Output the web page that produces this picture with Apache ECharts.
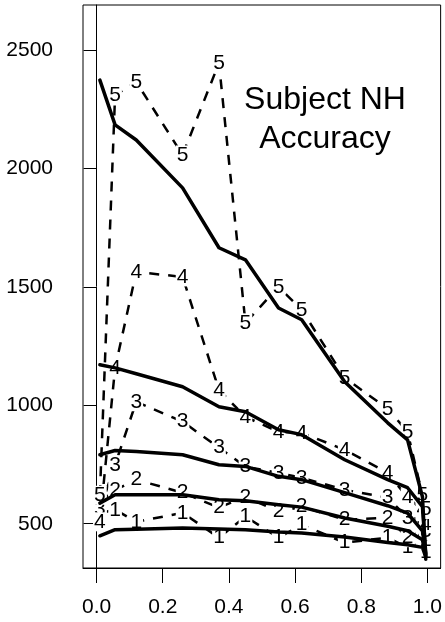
<!DOCTYPE html>
<html>
<head>
<meta charset="utf-8">
<script src="https://cdn.jsdelivr.net/npm/echarts@6/dist/echarts.min.js"></script>
<style>
  html, body { margin: 0; padding: 0; background: #fff; }
  #chart { width: 445px; height: 622px; }
</style>
</head>
<body>
<div id="chart"></div>
<script>
// shared x positions (proportion)
const xVals = [0.01, 0.056, 0.12, 0.26, 0.37, 0.45, 0.55, 0.62, 0.75, 0.88, 0.94, 0.985, 0.995];

// model curves (solid)
const model1 = [449, 475, 477, 482, 478, 475, 465, 461, 444, 421, 411, 400, 360];
const model2 = [587, 622, 622, 622, 601, 597, 580, 570, 524, 489, 470, 432, 365];
const model3 = [791, 809, 805, 791, 749, 742, 700, 686, 631, 576, 545, 470, 370];
const model4 = [1171, 1158, 1133, 1078, 994, 973, 897, 876, 770, 686, 652, 572, 375];
const model5 = [2373, 2184, 2120, 1918, 1665, 1614, 1411, 1361, 1099, 926, 854, 614, 350];

// subject data (dashed, labelled 1..5)
const subj1 = [545, 559, 508, 546, 441, 530, 441, 496, 420, 441, 399, 420, 380];
const subj2 = [595, 643, 686, 631, 568, 614, 551, 572, 517, 525, 441, 470, 430];
const subj3 = [560, 749, 1015, 931, 821, 741, 715, 694, 643, 610, 525, 520, 470];
const subj4 = [508, 1158, 1563, 1542, 1065, 951, 888, 884, 812, 715, 610, 560, 500];
const subj5 = [620, 2310, 2365, 2057, 2445, 1348, 1500, 1403, 1116, 985, 888, 620, 560];

const xTicks = [0, 0.2, 0.4, 0.6, 0.8, 1.0];
const yTicks = [500, 1000, 1500, 2000, 2500];

const titleLines = ['Subject NH', 'Accuracy'];

const FONT = 'Liberation Sans';

const chart = echarts.init(document.getElementById('chart'));

const subjects = [subj1, subj2, subj3, subj4, subj5];
const models = [model1, model2, model3, model4, model5];

const series = [];
subjects.forEach((vals, k) => {
  series.push({
    type: 'line',
    name: 'subject ' + (k + 1),
    data: xVals.map((x, i) => [x, vals[i]]),
    z: 2,
    symbol: 'circle',
    symbolSize: 1,
    itemStyle: { color: 'rgba(0,0,0,0)' },
    lineStyle: { color: '#000', width: 2.5, type: [10, 9] },
    label: {
      show: true,
      position: 'inside',
      formatter: String(k + 1),
      fontSize: 21,
      fontFamily: FONT,
      color: '#000',
      backgroundColor: '#fff',
      padding: [0, 1],
      lineHeight: 19
    },
    emphasis: { disabled: true },
    animation: false
  });
});
models.forEach((vals, k) => {
  series.push({
    type: 'line',
    name: 'model ' + (k + 1),
    data: xVals.map((x, i) => [x, vals[i]]),
    z: 3,
    symbol: 'none',
    lineStyle: { color: '#000', width: 3.5, join: 'round', cap: 'round' },
    emphasis: { disabled: true },
    animation: false
  });
});

chart.setOption({
  animation: false,
  grid: {
    left: 83, right: 4, top: 5, bottom: 54,
    show: true, borderColor: '#000', borderWidth: 1, backgroundColor: 'transparent'
  },
  xAxis: {
    type: 'value',
    min: -0.041,
    max: 1.04,
    splitLine: { show: false },
    axisLine: { show: true, lineStyle: { color: '#000', width: 1 } },
    axisTick: { show: true, length: 15, customValues: xTicks, lineStyle: { color: '#000', width: 1 } },
    axisLabel: {
      customValues: xTicks,
      margin: 29,
      fontSize: 21,
      fontFamily: FONT,
      color: '#000',
      formatter: (v) => v.toFixed(1)
    }
  },
  yAxis: {
    type: 'value',
    min: 313,
    max: 2690,
    splitLine: { show: false },
    axisLine: { show: true, lineStyle: { color: '#000', width: 1 } },
    axisTick: { show: true, length: 13, customValues: yTicks, lineStyle: { color: '#000', width: 1 } },
    axisLabel: {
      customValues: yTicks,
      margin: 30,
      fontSize: 21,
      fontFamily: FONT,
      color: '#000',
      formatter: (v) => String(v)
    }
  },
  graphic: titleLines.map((t, i) => ({
    type: 'text',
    x: 325,
    y: 100 + i * 39.5,
    z: 10,
    style: {
      text: t,
      fontSize: 32,
      fontFamily: FONT,
      fill: '#000',
      align: 'center',
      verticalAlign: 'middle'
    }
  })),
  series: series
});
</script>
</body>
</html>
